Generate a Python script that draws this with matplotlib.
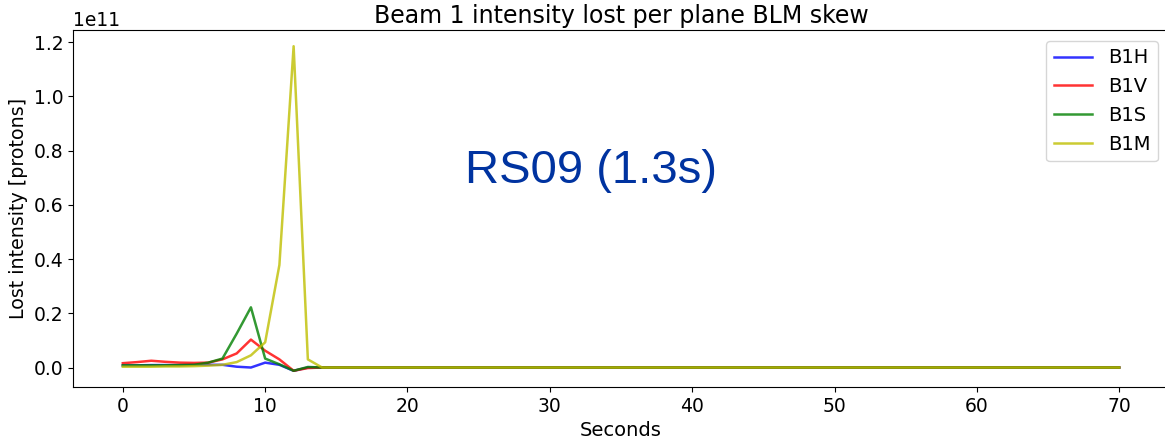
import matplotlib
matplotlib.use("Agg")
import matplotlib.pyplot as plt
import numpy as np

seconds = list(range(0, 71))

# values in units of 1e11 protons, for seconds 0..14 (zero afterwards)
b1h_head = [0.008, 0.008, 0.009, 0.009, 0.009, 0.010, 0.010, 0.010, 0.003, 0.000, 0.018, 0.010, -0.012, 0.000, 0.000]
b1v_head = [0.016, 0.020, 0.025, 0.021, 0.018, 0.017, 0.018, 0.030, 0.052, 0.103, 0.062, 0.030, -0.012, -0.002, 0.000]
b1s_head = [0.008, 0.008, 0.008, 0.008, 0.009, 0.010, 0.018, 0.033, 0.125, 0.222, 0.033, 0.012, -0.012, 0.002, 0.000]
b1m_head = [0.003, 0.003, 0.003, 0.004, 0.004, 0.005, 0.007, 0.010, 0.020, 0.045, 0.093, 0.378, 1.185, 0.030, 0.000]

tail = [0.0] * (71 - 15)
b1h = np.array(b1h_head + tail) * 1e11
b1v = np.array(b1v_head + tail) * 1e11
b1s = np.array(b1s_head + tail) * 1e11
b1m = np.array(b1m_head + tail) * 1e11

labels = ["B1H", "B1V", "B1S", "B1M"]
colors = ["blue", "red", "green", "y"]

fig = plt.figure(figsize=(11.65, 4.42), dpi=100)
ax = fig.add_axes([73 / 1165, 55 / 442, 1096 / 1165, 357 / 442])

for series, lab, col in zip([b1h, b1v, b1s, b1m], labels, colors):
    ax.plot(seconds, series, color=col, label=lab, lw=1.8, alpha=0.8)

ax.spines["right"].set_visible(False)
ax.set_title("Beam 1 intensity lost per plane BLM skew", fontsize=17, pad=5)
ax.set_xlabel("Seconds", fontsize=14)
ax.set_ylabel("Lost intensity [protons]", fontsize=13.7)
ax.tick_params(labelsize=13.5)
ax.yaxis.get_offset_text().set_fontsize(13.5)
ax.legend(loc="upper right", fontsize=14, borderaxespad=0.55)

ax.text((465 - 73) / 1096, (387 - 171) / 357, "RS09 (1.3s)", transform=ax.transAxes,
        ha="left", va="center", fontsize=34, color="#0033a0", family="Liberation Sans")

fig.savefig("out.png", dpi=100)
